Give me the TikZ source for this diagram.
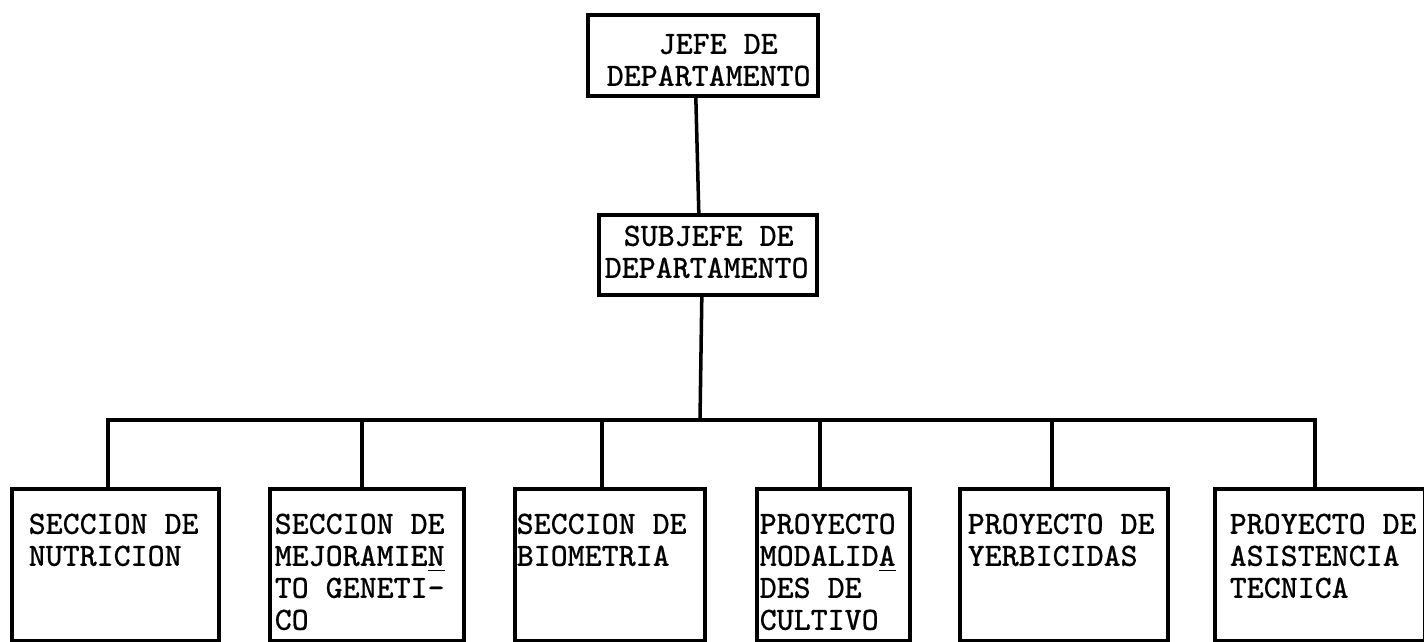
\documentclass[tikz,border=0pt]{standalone}
\usepackage{fontspec}
\setmonofont{Latin Modern Mono}[FakeBold=0.6]
\newcommand{\boxtext}[3]{\hspace*{#1}\parbox[t]{#2}{#3}}

\begin{document}
\begin{tikzpicture}[x=0.01cm, y=-0.01cm, line width=1pt]
        \tikzstyle{unit} = [draw, inner sep=0pt, anchor=north west, font=\fontsize{9.2}{9.1}\selectfont\ttfamily]
        \tikzstyle{low} = [unit, text height=0.45cm, text depth=1.07cm]
        \useasboundingbox (0,0) rectangle (1424,641);
        \node[unit, text height=0.39cm, text depth=0.42cm] (jefe) at (586,13) {\boxtext{0.19cm}{2.11cm}{\hspace*{0.52cm}JEFE DE\\DEPARTAMENTO}};
        \node[unit, text height=0.31cm, text depth=0.49cm] (subjefe) at (597,213) {\boxtext{0.06cm}{2.12cm}{\hspace*{0.19cm}SUBJEFE DE\\DEPARTAMENTO}};
        \node[low] (nutri) at (10,487) {\boxtext{0.17cm}{1.90cm}{SECCION DE\\NUTRICION}};
        \node[low] (mejora) at (268,487) {\boxtext{0.05cm}{1.89cm}{SECCION DE\\MEJORAMIE\underline{N}\\TO GENETI-\\CO}};
        \node[low] (biom) at (513,487) {\boxtext{0.02cm}{1.88cm}{SECCION DE\\BIOMETRIA}};
        \node[low] (modal) at (755,487) {\boxtext{0.03cm}{1.50cm}{PROYECTO\\MODALID\underline{A}\\DES DE\\CULTIVO}};
        \node[low] (yerbi) at (958,487) {\boxtext{0.08cm}{2.00cm}{PROYECTO DE\\YERBICIDAS}};
        \node[low] (asist) at (1213,487) {\boxtext{0.15cm}{1.95cm}{PROYECTO DE\\ASISTENCIA\\TECNICA}};
        \coordinate (bus) at (700,420);
        \draw ([xshift=-0.07cm]jefe.south) -- ([xshift=-0.09cm]subjefe.north);
        \draw ([xshift=-0.06cm]subjefe.south) -- (bus);
        \foreach \n/\s in {nutri/-0.075, mejora/-0.05, biom/-0.08, modal/-0.135, yerbi/-0.12, asist/-0.05}
                \draw (bus) -| ([xshift=\s cm]\n.north);
\end{tikzpicture}
\end{document}
